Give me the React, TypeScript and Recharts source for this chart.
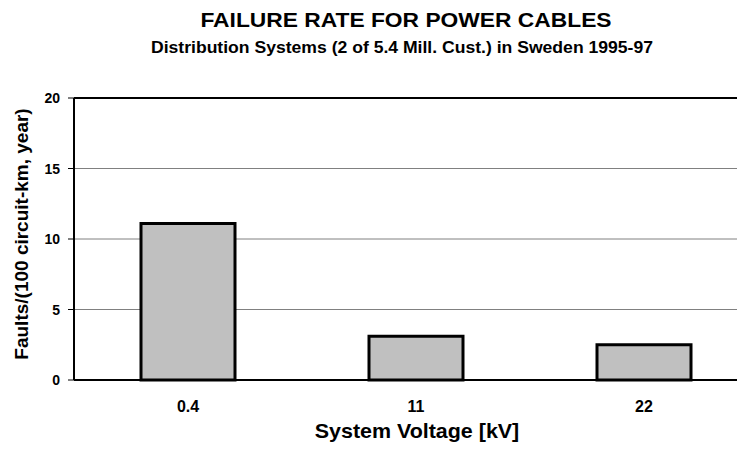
import { BarChart, Bar, XAxis, YAxis, CartesianGrid, ReferenceLine } from 'recharts'

const voltages = ['0.4', '11', '22']
const failureRates = [11.1, 3.1, 2.5]
const yTicks = [0, 5, 10, 15, 20]

const title = 'FAILURE RATE FOR POWER CABLES'
const subtitle = 'Distribution Systems (2 of 5.4 Mill. Cust.) in Sweden 1995-97'
const xTitle = 'System Voltage [kV]'
const yTitle = 'Faults/(100 circuit-km, year)'

const data = voltages.map((v, i) => ({ voltage: v, rate: failureRates[i] }))

const font = 'Arial, "Liberation Sans", sans-serif'

// the original is a stretched Excel chart, so text is a bit wider than normal
const wide = (s: number) => ({ transform: `scaleX(${s})`, transformBox: 'fill-box' as const, transformOrigin: 'center' })

const XTick = ({ x, y, payload }: any) => (
  <text x={x} y={y + 32} textAnchor="middle" fontSize={16} fontWeight="bold" fill="#000" fontFamily={font}>
    {payload.value}
  </text>
)

const YTick = ({ x, y, payload }: any) => (
  <text x={x} y={y + 5} textAnchor="end" fontSize={14} fontWeight="bold" fill="#000" fontFamily={font}>
    {payload.value}
  </text>
)

const XLabel = ({ viewBox }: any) => (
  <text
    x={viewBox.x + viewBox.width / 2 + 1}
    y={viewBox.y + 58}
    textAnchor="middle"
    fontSize={19.5}
    fontWeight="bold"
    fill="#000"
    fontFamily={font}
    style={wide(1.1)}
  >
    {xTitle}
  </text>
)

const YLabel = ({ viewBox }: any) => {
  const cx = 28
  const cy = viewBox.y + viewBox.height / 2 - 5
  return (
    <text
      x={cx}
      y={cy}
      transform={`rotate(-90, ${cx}, ${cy})`}
      textAnchor="middle"
      fontSize={19}
      fontWeight="bold"
      fill="#000"
      fontFamily={font}
    >
      {yTitle}
    </text>
  )
}

export default function App() {
  return (
    <div style={{ position: 'relative', margin: -8, width: 745, height: 451, overflow: 'hidden', background: '#fff' }}>
      <svg width={745} height={70} style={{ position: 'absolute', left: 0, top: 0 }}>
        <text x={406} y={27} textAnchor="middle" fontSize={20} fontWeight="bold" fill="#000" fontFamily={font} style={wide(1.14)}>
          {title}
        </text>
        <text x={402} y={53} textAnchor="middle" fontSize={16} fontWeight="bold" fill="#000" fontFamily={font} style={wide(1.1)}>
          {subtitle}
        </text>
      </svg>
      <BarChart
        width={758}
        height={451}
        data={data}
        margin={{ top: 98, right: 0, left: 0, bottom: 0 }}
        barCategoryGap={67}
        style={{ position: 'absolute', left: 0, top: 0 }}
      >
        <CartesianGrid horizontal vertical={false} stroke="#808080" strokeWidth={1} />
        <XAxis
          dataKey="voltage"
          height={71}
          tickLine={false}
          tickSize={0}
          tickMargin={0}
          axisLine={{ stroke: '#000', strokeWidth: 2 }}
          tick={<XTick />}
          label={<XLabel />}
        />
        <YAxis
          width={74}
          domain={[0, 20]}
          ticks={yTicks}
          interval={0}
          tickSize={6}
          tickMargin={8}
          tickLine={{ stroke: '#000' }}
          axisLine={{ stroke: '#000', strokeWidth: 2 }}
          tick={<YTick />}
          label={<YLabel />}
        />
        <ReferenceLine y={20} stroke="#000" strokeWidth={2} />
        <Bar dataKey="rate" fill="#c0c0c0" stroke="#000" strokeWidth={3} isAnimationActive={false} />
      </BarChart>
    </div>
  )
}
